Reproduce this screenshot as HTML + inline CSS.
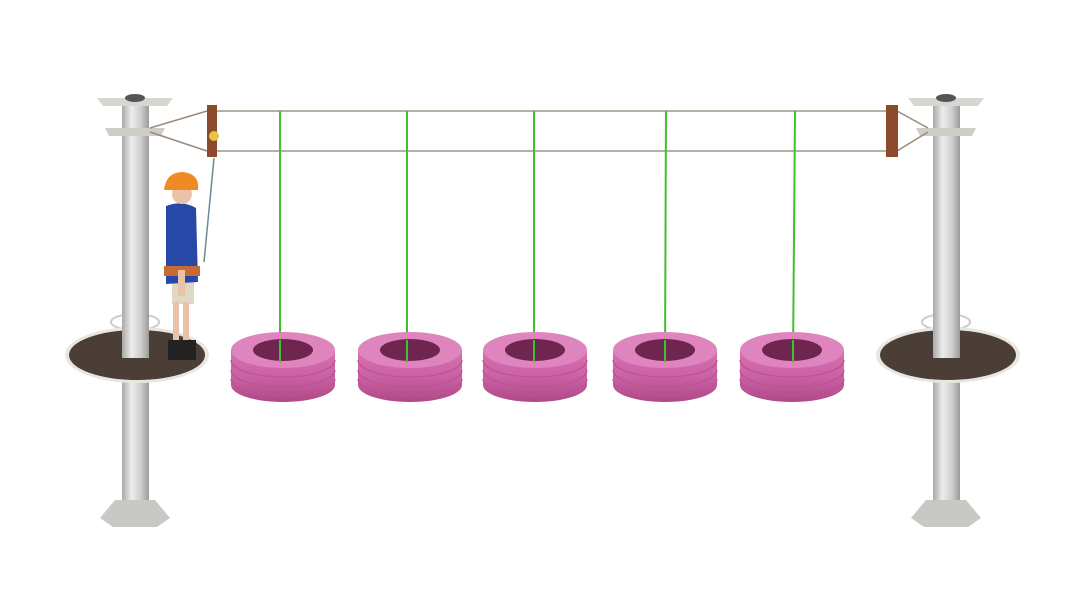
<!DOCTYPE html>
<html><head><meta charset="utf-8"><style>html,body{margin:0;padding:0;background:#fff}svg{display:block}</style></head><body>
<svg width="1080" height="608" viewBox="0 0 1080 608" xmlns="http://www.w3.org/2000/svg">
<defs>
<linearGradient id="pole" x1="0" x2="1"><stop offset="0" stop-color="#a8a8a8"/><stop offset=".35" stop-color="#ececec"/><stop offset=".7" stop-color="#cfcfcf"/><stop offset="1" stop-color="#9a9a9a"/></linearGradient>
<linearGradient id="tire" x1="0" x2="0" y1="0" y2="1"><stop offset="0" stop-color="#d66fb0"/><stop offset=".5" stop-color="#cc62a6"/><stop offset="1" stop-color="#b04886"/></linearGradient>
<g id="tireg">
<path d="M-52,0 L-52,35 A52,17 0 0 0 52,35 L52,0 Z" fill="url(#tire)"/>
<ellipse cx="0" cy="0" rx="52" ry="18" fill="#df85bd"/>
<ellipse cx="0" cy="0" rx="30" ry="11" fill="#6e2550"/>
<path d="M-52,10 A52,17 0 0 0 52,10 M-52,20 A52,17 0 0 0 52,20 M-52,29 A52,17 0 0 0 52,29" fill="none" stroke="#b8558f" stroke-width="1.2"/>
</g>
<g id="post">
<rect x="-13" y="100" width="27" height="420" fill="url(#pole)"/>
<path d="M-38,98 L38,98 L32,106 L-32,106 Z" fill="#d8d6d0"/>
<ellipse cx="0" cy="98" rx="10" ry="4" fill="#555"/>
<path d="M-30,128 L30,128 L26,136 L-26,136 Z" fill="#cfcdc8"/>
<ellipse cx="0" cy="322" rx="24" ry="8" fill="none" stroke="#ccc" stroke-width="2"/>
<ellipse cx="2" cy="355" rx="72" ry="28" fill="#e8e6e0"/>
<ellipse cx="2" cy="355" rx="68" ry="25" fill="#4a3e36"/>
<rect x="-13" y="300" width="27" height="58" fill="url(#pole)"/>
<path d="M-35,518 L-20,500 L20,500 L35,518 L22,527 L-22,527 Z" fill="#c8c8c4"/>
</g>
</defs>
<rect width="1080" height="608" fill="#fff"/>
<use href="#post" x="135"/>
<use href="#post" x="946"/>
<line x1="212" y1="111" x2="892" y2="111" stroke="#b7aea4" stroke-width="2"/>
<line x1="212" y1="151" x2="892" y2="151" stroke="#b7aea4" stroke-width="2"/>
<path d="M150,128 L207,111 M150,132 L207,151 M928,128 L897,111 M928,132 L897,151" stroke="#9b8a7a" stroke-width="1.5" fill="none"/>
<rect x="207" y="105" width="10" height="52" fill="#8b4a2a"/>
<rect x="886" y="105" width="12" height="52" fill="#8b4a2a"/>
<g stroke="#3ec22a" stroke-width="2">
<line x1="280" y1="111" x2="280" y2="360"/><line x1="407" y1="111" x2="407" y2="360"/><line x1="534" y1="111" x2="534" y2="360"/><line x1="666" y1="111" x2="665" y2="360"/><line x1="795" y1="111" x2="793" y2="360"/>
</g>
<use href="#tireg" x="283" y="350"/>
<use href="#tireg" x="410" y="350"/>
<use href="#tireg" x="535" y="350"/>
<use href="#tireg" x="665" y="350"/>
<use href="#tireg" x="792" y="350"/>
<g stroke="#3ec22a" stroke-width="2">
<line x1="280" y1="340" x2="280" y2="362"/><line x1="407" y1="340" x2="407" y2="362"/><line x1="534" y1="340" x2="534" y2="362"/><line x1="665" y1="340" x2="665" y2="362"/><line x1="793" y1="340" x2="793" y2="362"/>
</g>
<line x1="214" y1="158" x2="204" y2="262" stroke="#6a8c96" stroke-width="1.5"/>
<circle cx="214" cy="136" r="5" fill="#e7c34a"/>
<rect x="172" y="276" width="22" height="28" fill="#e0d8c4"/>
<rect x="173" y="302" width="6" height="48" fill="#e8c3a8"/>
<rect x="183" y="302" width="6" height="48" fill="#e8c3a8"/>
<rect x="168" y="340" width="28" height="20" fill="#222"/>
<path d="M166,206 Q182,200 196,208 L198,282 L166,284 Z" fill="#2848a8"/>
<rect x="164" y="266" width="36" height="10" fill="#c86a34"/>
<rect x="178" y="270" width="7" height="26" fill="#e8c3a8"/>
<circle cx="182" cy="194" r="10" fill="#e8c3a8"/>
<path d="M164,190 Q166,172 183,172 Q200,174 198,190 Z" fill="#ef8a24"/>
</svg>
</body></html>
